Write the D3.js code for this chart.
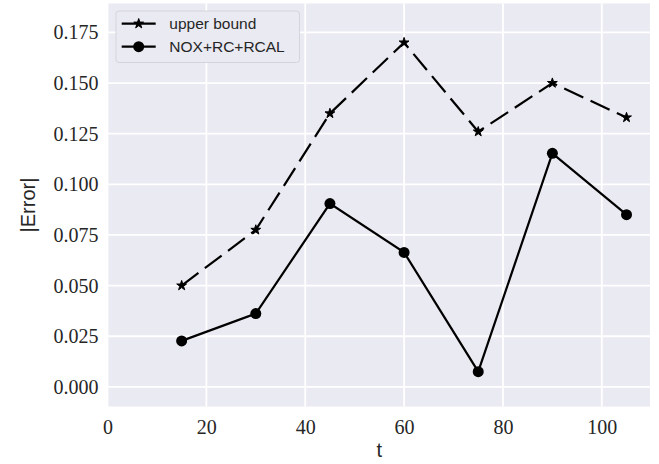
<!DOCTYPE html>
<html>
<head>
<meta charset="utf-8">
<script src="https://cdn.jsdelivr.net/npm/d3@7"></script>
<style>
  body { margin: 0; background: #fff; }
</style>
</head>
<body>
<div id="chart-area"></div>
<script>
const tValues = [15, 30, 45, 60, 75, 90, 105];
const upperBound = [0.050, 0.0775, 0.135, 0.170, 0.126, 0.150, 0.133];
const noxRcRcal = [0.0227, 0.0362, 0.0905, 0.0664, 0.0075, 0.1153, 0.0850];

const xTicks = [0, 20, 40, 60, 80, 100];
const yTicks = [0, 0.025, 0.05, 0.075, 0.1, 0.125, 0.15, 0.175];

const seriesNames = ["upper bound", "NOX+RC+RCAL"];

const canvasWidth = 659;
const canvasHeight = 464;

const plot = {left: 107.5, right: 650, top: 3.5, bottom: 406.5};

const canvas = d3.select("#chart-area").append("svg")
  .attr("width", canvasWidth).attr("height", canvasHeight);

const scaleX = d3.scaleLinear().domain([0, 109.75]).range([plot.left, plot.right]);
const scaleY = d3.scaleLinear().domain([-0.0097, 0.1893]).range([plot.bottom, plot.top]);

// axes background, seaborn darkgrid look
canvas.append("rect")
  .attr("x", plot.left).attr("y", plot.top)
  .attr("width", plot.right - plot.left).attr("height", plot.bottom - plot.top)
  .attr("fill", "#eaeaf2");

const grid = canvas.append("g");
grid.selectAll(".gx").data(xTicks).enter().append("line")
  .attr("x1", d => scaleX(d)).attr("x2", d => scaleX(d))
  .attr("y1", plot.top).attr("y2", plot.bottom)
  .attr("stroke", "#fff").attr("stroke-width", 1.8);
grid.selectAll(".gy").data(yTicks).enter().append("line")
  .attr("y1", d => scaleY(d)).attr("y2", d => scaleY(d))
  .attr("x1", plot.left).attr("x2", plot.right)
  .attr("stroke", "#fff").attr("stroke-width", 1.8);

// axes with no domain line or ticks, only labels
const xAxis = d3.axisBottom(scaleX).tickValues(xTicks).tickSize(0).tickPadding(13).tickFormat(d3.format("d"));
const xg = canvas.append("g").attr("transform", `translate(0, ${plot.bottom})`).call(xAxis);
xg.select(".domain").remove();
xg.selectAll("text").attr("font-family", "'Liberation Serif', serif").attr("font-size", "20px").attr("fill", "#262626");

const yAxis = d3.axisLeft(scaleY).tickValues(yTicks).tickSize(0).tickPadding(9).tickFormat(d3.format(".3f"));
const yg = canvas.append("g").attr("transform", `translate(${plot.left}, 0)`).call(yAxis);
yg.select(".domain").remove();
yg.selectAll("text").attr("font-family", "'Liberation Serif', serif").attr("font-size", "20px").attr("fill", "#262626");

canvas.append("text")
  .attr("x", scaleX(55)).attr("y", 457)
  .attr("text-anchor", "middle")
  .attr("font-family", "'Liberation Sans', sans-serif").attr("font-size", "20px").attr("fill", "#262626")
  .text("t");

canvas.append("text")
  .attr("transform", `translate(35, ${(plot.top + plot.bottom) / 2}) rotate(-90)`)
  .attr("text-anchor", "middle")
  .attr("font-family", "'Liberation Sans', sans-serif").attr("font-size", "20px").attr("fill", "#262626")
  .text("|Error|");

const line = d3.line().x(d => scaleX(d[0])).y(d => scaleY(d[1]));
const upperPoints = tValues.map((t, i) => [t, upperBound[i]]);
const noxPoints = tValues.map((t, i) => [t, noxRcRcal[i]]);

const star = d3.symbol().type(d3.symbolStar).size(30);

canvas.append("path").datum(upperPoints)
  .attr("d", line).attr("fill", "none")
  .attr("stroke", "#000").attr("stroke-width", 2.2)
  .attr("stroke-dasharray", "21,8");

canvas.append("g").selectAll("path").data(upperPoints).enter().append("path")
  .attr("d", star)
  .attr("transform", d => `translate(${scaleX(d[0])}, ${scaleY(d[1])})`)
  .attr("fill", "#000").attr("stroke", "#000").attr("stroke-width", 1);

canvas.append("path").datum(noxPoints)
  .attr("d", line).attr("fill", "none")
  .attr("stroke", "#000").attr("stroke-width", 2.2);

canvas.append("g").selectAll("circle").data(noxPoints).enter().append("circle")
  .attr("cx", d => scaleX(d[0])).attr("cy", d => scaleY(d[1]))
  .attr("r", 5.5).attr("fill", "#000");

// legend
const legend = canvas.append("g").attr("transform", "translate(116, 11)");
legend.append("rect")
  .attr("width", 183.5).attr("height", 51.5).attr("rx", 3)
  .attr("fill", "#eaeaf2").attr("stroke", "#d4d4dc").attr("stroke-width", 1);

seriesNames.forEach((name, i) => {
  const row = legend.append("g").attr("transform", `translate(0, ${12.7 + i * 23})`);
  row.append("line")
    .attr("x1", 5.7).attr("x2", 39.7)
    .attr("stroke", "#000").attr("stroke-width", 2.2);
  if (i === 0) {
    row.append("path").attr("d", star).attr("transform", "translate(22.7, 0)")
      .attr("fill", "#000").attr("stroke", "#000").attr("stroke-width", 1);
  } else {
    row.append("circle").attr("cx", 22.7).attr("r", 5.5).attr("fill", "#000");
  }
  row.append("text")
    .attr("x", 53.3).attr("y", 0).attr("dy", "0.35em")
    .attr("font-family", "'Liberation Sans', sans-serif").attr("font-size", "15.5px").attr("fill", "#262626")
    .text(name);
});
</script>
</body>
</html>
